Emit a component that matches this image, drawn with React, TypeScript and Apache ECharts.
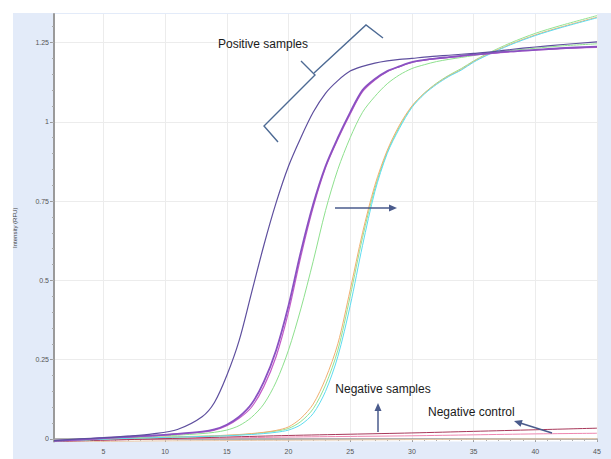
import React, { useEffect, useRef } from "react";
import * as echarts from "echarts";

// Cycle positions at which the amplification curves were read
const cycles = [1, 3, 5, 7, 9, 11, 13, 14, 15, 16, 17, 18, 19, 20, 21, 22, 23, 24, 25, 26, 27, 28, 29, 30, 31, 32, 33, 34, 35, 36, 38, 40, 42, 45];

// Positive samples
const posA = [-0.005, 0.0, 0.004, 0.009, 0.016, 0.03, 0.07, 0.115, 0.2, 0.31, 0.46, 0.61, 0.745, 0.86, 0.95, 1.03, 1.09, 1.13, 1.16, 1.175, 1.185, 1.192, 1.197, 1.2, 1.204, 1.207, 1.21, 1.213, 1.216, 1.219, 1.228, 1.236, 1.243, 1.252];
const posB = [-0.006, -0.002, 0.003, 0.007, 0.011, 0.016, 0.023, 0.03, 0.045, 0.07, 0.11, 0.18, 0.28, 0.42, 0.59, 0.74, 0.86, 0.95, 1.03, 1.1, 1.135, 1.16, 1.175, 1.188, 1.195, 1.2, 1.204, 1.208, 1.212, 1.215, 1.222, 1.227, 1.232, 1.237];
const posB2 = [-0.006, -0.003, 0.002, 0.006, 0.01, 0.015, 0.022, 0.028, 0.042, 0.065, 0.1, 0.165, 0.26, 0.4, 0.575, 0.73, 0.855, 0.945, 1.025, 1.095, 1.132, 1.158, 1.174, 1.187, 1.194, 1.199, 1.203, 1.207, 1.211, 1.214, 1.221, 1.226, 1.231, 1.235];
const posC = [-0.006, -0.003, 0.002, 0.005, 0.008, 0.012, 0.017, 0.021, 0.028, 0.042, 0.068, 0.11, 0.18, 0.28, 0.41, 0.56, 0.72, 0.85, 0.95, 1.03, 1.08, 1.12, 1.148, 1.168, 1.18, 1.19, 1.197, 1.203, 1.209, 1.215, 1.225, 1.232, 1.239, 1.246];
const posOrange = [-0.006, -0.004, 0.0, 0.003, 0.005, 0.007, 0.009, 0.01, 0.012, 0.014, 0.017, 0.021, 0.027, 0.038, 0.065, 0.11, 0.19, 0.3, 0.47, 0.65, 0.8, 0.91, 0.99, 1.05, 1.09, 1.12, 1.145, 1.165, 1.19, 1.21, 1.245, 1.274, 1.298, 1.33];
const posCyan = [-0.006, -0.004, -0.001, 0.002, 0.004, 0.006, 0.008, 0.009, 0.01, 0.012, 0.014, 0.017, 0.021, 0.028, 0.045, 0.08, 0.15, 0.26, 0.42, 0.61, 0.78, 0.9, 0.98, 1.045, 1.087, 1.118, 1.143, 1.163, 1.188, 1.208, 1.243, 1.272, 1.296, 1.328];
const posGreen = [-0.006, -0.004, 0.0, 0.002, 0.004, 0.006, 0.008, 0.009, 0.011, 0.013, 0.016, 0.02, 0.025, 0.033, 0.055, 0.095, 0.17, 0.28, 0.45, 0.635, 0.79, 0.905, 0.985, 1.048, 1.09, 1.122, 1.147, 1.168, 1.192, 1.213, 1.249, 1.279, 1.303, 1.335];

// Negative samples / control
const negCycles = [1, 5, 10, 15, 20, 25, 30, 35, 40, 45];
const negControl = [-0.008, -0.004, 0.001, 0.006, 0.011, 0.015, 0.019, 0.024, 0.029, 0.034];
const negSample = [-0.006, -0.003, 0.0, 0.003, 0.006, 0.008, 0.01, 0.013, 0.016, 0.018];
const negSample2 = [-0.01, -0.008, -0.006, -0.005, -0.004, -0.003, -0.002, -0.001, 0.0, 0.001];

// Tick labels
const xTicks = [5, 10, 15, 20, 25, 30, 35, 40, 45];
const xMinorTicks = Array.from({ length: 45 }, (_, i) => i + 1);
const yTicks = [0, 0.25, 0.5, 0.75, 1, 1.25];
const yMinorTicks = [0, 0.05, 0.1, 0.15, 0.2, 0.25, 0.3, 0.35, 0.4, 0.45, 0.5, 0.55, 0.6, 0.65, 0.7, 0.75, 0.8, 0.85, 0.9, 0.95, 1, 1.05, 1.1, 1.15, 1.2, 1.25, 1.3];

const pair = (xs: number[], ys: number[]) => xs.map((x, i) => [x, ys[i]]);

const FONT = "Liberation Sans, Arial, sans-serif";
const ANN = "#4a5b8c";

function line(name: string, xs: number[], ys: number[], color: string, width: number) {
  return {
    name,
    type: "line",
    data: pair(xs, ys),
    xAxisIndex: 0,
    yAxisIndex: 0,
    showSymbol: false,
    symbol: "none",
    smooth: 0.3,
    lineStyle: { color, width },
    silent: true,
  };
}

function arrowHead(tipX: number, tipY: number, fromX: number, fromY: number, len: number, half: number) {
  const dx = tipX - fromX;
  const dy = tipY - fromY;
  const l = Math.sqrt(dx * dx + dy * dy);
  const ux = dx / l;
  const uy = dy / l;
  const bx = tipX - ux * len;
  const by = tipY - uy * len;
  return {
    type: "polygon",
    z: 100,
    shape: { points: [[tipX, tipY], [bx - uy * half, by + ux * half], [bx + uy * half, by - ux * half]] },
    style: { fill: ANN },
    silent: true,
  };
}

export default function App() {
  const ref = useRef<HTMLDivElement>(null);
  useEffect(() => {
    const chart = echarts.init(ref.current!, undefined, { renderer: "svg" });
    const axisLabelStyle = { color: "#555", fontSize: 7, fontFamily: FONT };
    chart.setOption({
      animation: false,
      backgroundColor: "transparent",
      grid: { left: 54, right: 14, top: 14, bottom: 17.5, show: true, backgroundColor: "#ffffff", borderWidth: 0 },
      xAxis: [
        {
          type: "value",
          min: 1,
          max: 45,
          position: "bottom",
          axisLine: { show: true, lineStyle: { color: "#9a9a9a", width: 1.5 } },
          axisTick: { show: true, customValues: xTicks, length: 3, lineStyle: { color: "#9a9a9a" } },
          axisLabel: { ...axisLabelStyle, customValues: xTicks, margin: 6 },
          splitLine: { show: true, lineStyle: { color: "#ececec", width: 1 } },
        },
        {
          type: "value",
          min: 1,
          max: 45,
          position: "bottom",
          axisLine: { show: false },
          axisTick: { show: true, customValues: xMinorTicks, length: 2, lineStyle: { color: "#aaaaaa" } },
          axisLabel: { show: false },
          splitLine: { show: false },
        },
      ],
      yAxis: [
        {
          type: "value",
          min: -0.008,
          max: 1.34,
          position: "left",
          name: "Intensity (RFU)",
          nameLocation: "middle",
          nameGap: 36,
          nameTextStyle: { color: "#444", fontSize: 6, fontFamily: FONT },
          axisLine: { show: true, lineStyle: { color: "#9a9a9a", width: 2 } },
          axisTick: { show: true, customValues: yTicks, length: 4, lineStyle: { color: "#9a9a9a" } },
          axisLabel: { ...axisLabelStyle, customValues: yTicks, margin: 5 },
          splitLine: { show: true, lineStyle: { color: "#ececec", width: 1 } },
        },
        {
          type: "value",
          min: -0.008,
          max: 1.34,
          position: "left",
          axisLine: { show: false },
          axisTick: { show: true, customValues: yMinorTicks, length: 2, lineStyle: { color: "#aaaaaa" } },
          axisLabel: { show: false },
          splitLine: { show: false },
        },
      ],
      series: [
        line("neg3", negCycles, negSample2, "#e8c8a8", 1),
        line("neg2", negCycles, negSample, "#ee86b0", 1),
        line("negctl", negCycles, negControl, "#a8385a", 1),
        line("green4", cycles, posGreen, "#92e492", 1),
        line("orange", cycles, posOrange, "#f0b070", 1),
        line("cyan", cycles, posCyan, "#5ddcf0", 1),
        line("green3", cycles, posC, "#8ee08e", 1),
        line("magenta", cycles, posB2, "#c45cc8", 1.2),
        line("purple", cycles, posB, "#8a52c2", 1.8),
        line("slate", cycles, posA, "#5e4f9e", 1.2),
      ],
      graphic: [
        {
          type: "text",
          z: 100,
          x: 218,
          y: 44,
          style: { text: "Positive samples", fill: "#1a1a1a", font: `12px ${FONT}`, verticalAlign: "middle", align: "left" },
          silent: true,
        },
        {
          type: "polyline",
          z: 100,
          shape: { points: [[278, 142], [264, 126], [315, 75], [301, 61]] },
          style: { stroke: "#4d6a94", lineWidth: 1.4, fill: null },
          silent: true,
        },
        {
          type: "polyline",
          z: 100,
          shape: { points: [[314, 73], [366, 25], [383, 38]] },
          style: { stroke: "#4d6a94", lineWidth: 1.4, fill: null },
          silent: true,
        },
        {
          type: "line",
          z: 100,
          shape: { x1: 335, y1: 208, x2: 390, y2: 208 },
          style: { stroke: ANN, lineWidth: 1.5 },
          silent: true,
        },
        arrowHead(397, 208, 335, 208, 8, 3.5),
        {
          type: "text",
          z: 100,
          x: 383,
          y: 389,
          style: { text: "Negative samples", fill: "#1a1a1a", font: `12px ${FONT}`, verticalAlign: "middle", align: "center" },
          silent: true,
        },
        {
          type: "line",
          z: 100,
          shape: { x1: 378, y1: 432, x2: 378, y2: 410 },
          style: { stroke: ANN, lineWidth: 1.5 },
          silent: true,
        },
        arrowHead(378, 403, 378, 432, 8, 3.5),
        {
          type: "text",
          z: 100,
          x: 428,
          y: 412,
          style: { text: "Negative control", fill: "#1a1a1a", font: `12px ${FONT}`, verticalAlign: "middle", align: "left" },
          silent: true,
        },
        {
          type: "line",
          z: 100,
          shape: { x1: 552, y1: 433, x2: 521, y2: 423.3 },
          style: { stroke: ANN, lineWidth: 1.5 },
          silent: true,
        },
        arrowHead(514, 421, 552, 433, 8, 3.5),
      ],
    });
    return () => chart.dispose();
  }, []);
  return (
    <div style={{ position: "fixed", left: 0, top: 0, width: 611, height: 459, background: "#ffffff", overflow: "hidden" }}>
      <div style={{ position: "absolute", left: 13, top: 13, width: 598, height: 446, background: "#e3ebf9" }} />
      <div ref={ref} style={{ position: "absolute", left: 0, top: 0, width: 611, height: 459 }} />
    </div>
  );
}
